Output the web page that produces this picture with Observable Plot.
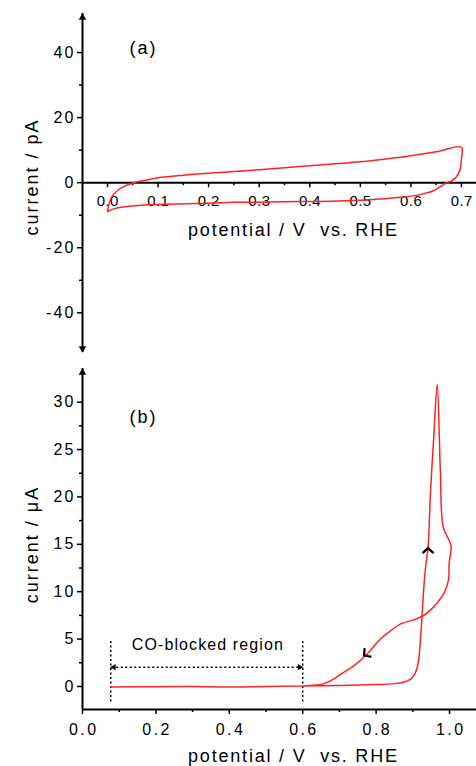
<!DOCTYPE html>
<html>
<head>
<meta charset="utf-8">
<script src="https://cdn.jsdelivr.net/npm/d3@7"></script>
<script src="https://cdn.jsdelivr.net/npm/@observablehq/plot@0.6"></script>
<style>
  html, body { margin: 0; padding: 0; background: #fff; }
  #chart { width: 476px; height: 766px; position: relative; }
  #chart svg { display: block; }
</style>
</head>
<body>
<div id="chart"></div>
<script>
// ---------- Panel (a): blank CV, current in pA ----------
const topV = [0.000, 0.004, 0.010, 0.020, 0.035, 0.052, 0.070, 0.100, 0.150, 0.200, 0.250, 0.300, 0.350, 0.400, 0.450, 0.500, 0.550, 0.600, 0.650, 0.700,
              0.700, 0.697, 0.690, 0.680, 0.671, 0.660, 0.644, 0.620, 0.580, 0.540, 0.500, 0.440, 0.380, 0.300, 0.250, 0.200, 0.120, 0.060, 0.030, 0.010, 0.000];
const topI = [-8.9, -6.0, -4.0, -2.4, -1.0, 0.0, 0.6, 1.5, 2.3, 2.9, 3.4, 4.0, 4.6, 5.2, 5.8, 6.4, 7.3, 8.3, 9.5, 10.9,
              7.5, 4.0, 1.8, 0.5, 0.0, -1.0, -2.5, -3.6, -4.5, -5.0, -5.4, -5.7, -5.8, -6.0, -6.05, -6.3, -6.6, -7.0, -7.5, -8.2, -8.9];
const topXTicks = [0.0, 0.1, 0.2, 0.3, 0.4, 0.5, 0.6, 0.7];
const topXMinor = [0.05, 0.15, 0.25, 0.35, 0.45, 0.55, 0.65];
const topYTicks = [-40, -20, 0, 20, 40];
const topYMinor = [-30, -10, 10, 30];
const topXDomain = [-0.0494, 0.7297];
const topYDomain = [-52.2, 52.0];

// ---------- Panel (b): CO stripping, current in µA ----------
const botV = [0.077, 0.200, 0.300, 0.400, 0.500, 0.600, 0.700, 0.800, 0.850, 0.875, 0.895, 0.905, 0.912, 0.916, 0.921, 0.926, 0.931, 0.936, 0.9415, 0.948, 0.957, 0.9665,
              0.975, 0.983, 1.004, 0.999, 0.997, 0.9845, 0.970, 0.957, 0.930, 0.900, 0.867, 0.840, 0.812, 0.776, 0.740, 0.700, 0.685, 0.665, 0.649, 0.620, 0.600];
const botI = [-0.05, -0.02, 0.0, -0.05, 0.0, 0.05, 0.1, 0.2, 0.3, 0.45, 0.8, 1.3, 2.0, 2.8, 5.0, 8.0, 11.0, 13.0, 14.6, 20.4, 26.3, 31.9,
              22.8, 16.8, 14.9, 13.0, 11.2, 9.8, 9.0, 8.4, 7.5, 7.0, 6.6, 5.9, 5.0, 3.45, 2.2, 1.2, 0.8, 0.4, 0.2, 0.1, 0.05];
const botXTicks = [0.0, 0.2, 0.4, 0.6, 0.8, 1.0];
const botXMinor = [0.1, 0.3, 0.5, 0.7, 0.9];
const botYTicks = [0, 5, 10, 15, 20, 25, 30];
const botYMinor = [2.5, 7.5, 12.5, 17.5, 22.5, 27.5];
const botXDomain = [0, 1.0735];
const botYDomain = [-2.43, 33.55];

// scan-direction arrowheads: tip position and pointing direction (degrees clockwise from up)
const scanTipV = [0.9415, 0.767];
const scanTipI = [14.6, 3.27];
const scanDir = [0, -127];
// CO-blocked region annotation
const coLabel = "CO-blocked region";
const coBounds = [0.077, 0.600];
const coSpan = [-1.65, 5.0];
const coArrowY = 2.04;
const coLabelPos = [0.34, 4.4];

const xTitle = "potential / V\u00a0 vs. RHE";
const yTitleTop = "current / pA";
const yTitleBot = "current / \u03bcA";
const RED = "#ff2424";
const FONT = "'Liberation Sans', Arial, Helvetica, sans-serif";
const fmtInt = d => String(d);   // plain hyphen minus as in the original

// open chevron symbol, tip at the origin, pointing up
const chevron = {
  draw(ctx) {
    ctx.moveTo(-5.5, 5);
    ctx.lineTo(0, 0);
    ctx.lineTo(5.5, 5);
  }
};

// ---------------- Top plot ----------------
const tH = 360, tMT = 13, tMB = 8;
const tPx = (tH - tMT - tMB) / (topYDomain[1] - topYDomain[0]); // px per pA
const topPlot = Plot.plot({
  width: 476, height: tH,
  marginLeft: 82, marginRight: 0, marginTop: tMT, marginBottom: tMB,
  style: {fontFamily: FONT, fontSize: "15px", background: "#fff", color: "#000", overflow: "visible"},
  x: {domain: topXDomain, axis: null},
  y: {domain: topYDomain, axis: null},
  marks: [
    Plot.axisY(topYTicks, {tickSize: 5, tickPadding: 4, tickFormat: fmtInt, fontSize: 16, strokeWidth: 1.5, label: null}),
    Plot.axisY(topYMinor, {tickSize: 3, tickFormat: () => "", strokeWidth: 1.5, label: null}),
    Plot.ruleX([topXDomain[0]], {strokeWidth: 2}),
    Plot.dot([topYDomain[1]], {x: topXDomain[0], y: d => d, symbol: "triangle", r: 2.8, fill: "#000", dy: 4}),
    Plot.dot([topYDomain[0]], {x: topXDomain[0], y: d => d, symbol: "triangle", r: 2.8, fill: "#000", rotate: 180, dy: -4}),
    Plot.ruleY([0], {strokeWidth: 2}),
    Plot.ruleX(topXTicks, {x: d => d, y1: 0, y2: -5 / tPx, strokeWidth: 1.5}),
    Plot.ruleX(topXMinor, {x: d => d, y1: 0, y2: -3 / tPx, strokeWidth: 1.5}),
    Plot.text(topXTicks, {x: d => d, y: 0, dy: 19, text: d3.format(".1f"), fontSize: 15}),
    Plot.line({length: topV.length}, {x: topV, y: topI, stroke: RED, strokeWidth: 1.5, curve: "catmull-rom"}),
    Plot.text(["(a)"], {frameAnchor: "top-left", textAnchor: "middle", lineAnchor: "middle", dx: 60, dy: 35, fontSize: 18}),
    Plot.text([xTitle], {frameAnchor: "top", textAnchor: "middle", lineAnchor: "middle", dx: 13, dy: 217, fontSize: 18}),
    Plot.text([yTitleTop], {frameAnchor: "left", textAnchor: "middle", lineAnchor: "middle", rotate: -90, dx: -50, dy: -5, fontSize: 18})
  ]
});

// ---------------- Bottom plot ----------------
const bH = 406, bMT = 8, bMB = 57;
const botPlot = Plot.plot({
  width: 476, height: bH,
  marginLeft: 82, marginRight: 0, marginTop: bMT, marginBottom: bMB,
  style: {fontFamily: FONT, fontSize: "15px", background: "#fff", color: "#000", overflow: "visible"},
  x: {domain: botXDomain},
  y: {domain: botYDomain},
  marks: [
    Plot.axisY(botYTicks, {tickSize: 5, tickPadding: 4, tickFormat: fmtInt, fontSize: 16, strokeWidth: 1.5, label: null}),
    Plot.axisY(botYMinor, {tickSize: 3, tickFormat: () => "", strokeWidth: 1.5, label: null}),
    Plot.axisX(botXTicks, {tickSize: 5, tickPadding: 9, tickFormat: ".1f", fontSize: 16, strokeWidth: 1.5, label: null}),
    Plot.axisX(botXMinor, {tickSize: 3, tickFormat: () => "", strokeWidth: 1.5, label: null}),
    Plot.ruleX([botXDomain[0]], {strokeWidth: 2}),
    Plot.ruleY([botYDomain[0]], {strokeWidth: 2}),
    Plot.dot([botYDomain[1]], {x: botXDomain[0], y: d => d, symbol: "triangle", r: 2.8, fill: "#000", dy: 4}),
    // CO-blocked region
    Plot.ruleX(coBounds, {x: d => d, y1: coSpan[0], y2: coSpan[1], strokeDasharray: "2,2.5", strokeWidth: 1.5}),
    Plot.ruleY([coArrowY], {x1: coBounds[0] + 0.004, x2: coBounds[1] - 0.004, strokeDasharray: "2,2.5", strokeWidth: 1.5}),
    Plot.dot([coBounds[0]], {x: d => d, y: coArrowY, symbol: "triangle", r: 2.4, fill: "#000", rotate: -90, dx: 3}),
    Plot.dot([coBounds[1]], {x: d => d, y: coArrowY, symbol: "triangle", r: 2.4, fill: "#000", rotate: 90, dx: -3}),
    Plot.text([coLabel], {x: coLabelPos[0], y: coLabelPos[1], fontSize: 16}),
    // curve
    Plot.line({length: botV.length}, {x: botV, y: botI, stroke: RED, strokeWidth: 1.5, curve: "catmull-rom"}),
    Plot.dot({length: scanTipV.length}, {x: scanTipV, y: scanTipI, rotate: scanDir, symbol: chevron, fill: "none", stroke: "#000", strokeWidth: 2.2, strokeLinejoin: "miter"}),
    Plot.text(["(b)"], {frameAnchor: "top-left", textAnchor: "middle", lineAnchor: "middle", dx: 60, dy: 49, fontSize: 18}),
    Plot.text([xTitle], {frameAnchor: "bottom", textAnchor: "middle", lineAnchor: "middle", dx: 13, dy: 47, fontSize: 18}),
    Plot.text([yTitleBot], {frameAnchor: "left", textAnchor: "middle", lineAnchor: "middle", rotate: -90, dx: -50, dy: 6.5, fontSize: 18})
  ]
});

const chart = document.getElementById("chart");
chart.appendChild(topPlot);
chart.appendChild(botPlot);

// widen the lettering like the original: stretch inter-letter spacing with textLength
const titles = new Set([xTitle, yTitleTop, yTitleBot]);
function styleTexts(svg, xTickSpacing) {
  d3.select(svg).selectAll("text").each(function () {
    const t = this.textContent;
    let ls;
    if (t === xTitle) ls = 1.8;
    else if (titles.has(t)) ls = 2.0;
    else if (t === "(a)" || t === "(b)") ls = 2;
    else if (t === coLabel) ls = 1.1;
    else if (/^-?\d+$/.test(t)) ls = 2.2;
    else if (/^\d\.\d$/.test(t)) ls = xTickSpacing;
    else return;
    const n = t.length;
    if (n < 2) return;
    const L = this.getComputedTextLength();
    this.setAttribute("textLength", (L + (n - 1) * ls).toFixed(1));
    this.setAttribute("lengthAdjust", "spacing");
  });
}
styleTexts(topPlot, 0.4);
styleTexts(botPlot, 2.4);
</script>
</body>
</html>
